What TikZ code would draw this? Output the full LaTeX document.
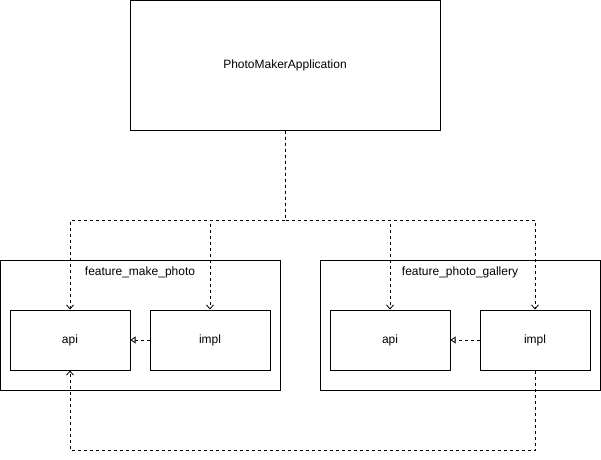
\documentclass[tikz,border=0pt]{standalone}
\usepackage{fontspec}
\setmainfont{Liberation Sans}
\usetikzlibrary{arrows.meta,positioning}
\tikzset{
  appbox/.style={draw, line width=1pt, inner sep=0pt, minimum width=310pt, minimum height=130pt},
  groupbox/.style={draw, line width=1pt, inner sep=0pt, minimum width=280pt, minimum height=130pt},
  modbox/.style={draw, line width=1pt, fill=white, inner sep=0pt, minimum width=120pt, minimum height=60pt},
  dep/.style={line width=.8pt, dash pattern=on 3pt off 3pt, -{Straight Barb[length=4pt,width=7pt]}},
  impl/.style={line width=.8pt, dash pattern=on 3pt off 3pt, -{Triangle[open,length=5pt,width=7pt]}}
}
\begin{document}
\begin{tikzpicture}[x=1pt,y=-1pt,font=\fontsize{12}{14}\selectfont]
\useasboundingbox (0,0) rectangle (601,459);
% application
\node[appbox] (app) at (285,65) {PhotoMakerApplication};
% feature modules
\node[groupbox] (mgroup) at (140,325) {};
\node at ([yshift=-13pt]mgroup.north) (mlabel) {feature\_make\_photo};
\node[modbox] (mapi) at (70,340) {api};
\node[modbox] (mimpl) at (210,340) {impl};
\node[groupbox] (ggroup) at (460,325) {};
\node at ([yshift=-13pt]ggroup.north) (glabel) {feature\_photo\_gallery};
\node[modbox] (gapi) at (390,340) {api};
\node[modbox, minimum width=110pt] (gimpl) at (535,340) {impl};
% dependencies
\coordinate (bus) at (285,220);
\coordinate (loop) at (535,450);
\draw[dep] (app.south) -- (bus) -| (mapi.north);
\draw[dep] (app.south) -- (bus) -| (mimpl.north);
\draw[dep] (app.south) -- (bus) -| (gapi.north);
\draw[dep] (app.south) -- (bus) -| (gimpl.north);
\draw[impl] (mimpl) -- (mapi);
\draw[impl] (gimpl) -- (gapi);
\draw[dep] (gimpl.south) -- (loop) -| (mapi.south);
\end{tikzpicture}
\end{document}
